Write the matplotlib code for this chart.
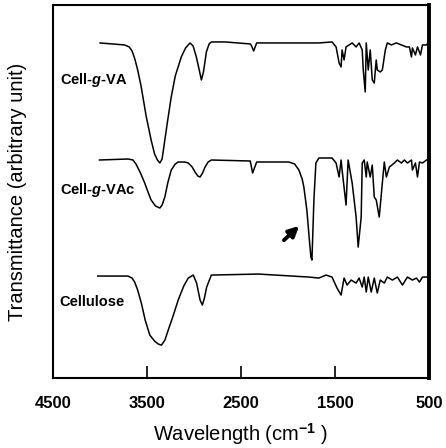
import matplotlib.pyplot as plt

# FTIR spectra (wavenumber in cm-1, transmittance in arbitrary units)
va_wn = [4000, 3739, 3690, 3660, 3630, 3600, 3564, 3510, 3457, 3420, 3390, 3364, 3340,
         3311, 3280, 3243, 3200, 3136, 3090, 3043, 3010,
         2976, 2945, 2922, 2900, 2869, 2840, 2816, 2669, 2402, 2388, 2366, 2334, 2000,
         1672, 1532, 1489,
         1457, 1436, 1425, 1404, 1383, 1351, 1318, 1276, 1244, 1211, 1200, 1179, 1168,
         1147, 1126, 1104, 1083, 1062, 1051, 1019, 997, 965, 944, 901, 848, 794, 741,
         709, 687, 677, 645, 623, 591, 570, 527, 505]
va_t = [335, 333, 331, 327, 319, 308, 292, 262, 238, 224, 218, 215, 219,
        238, 258, 281, 302, 321, 330, 335, 332,
        321, 308, 298, 306, 326, 334, 336, 336, 334, 332, 327, 335, 335,
        335, 336, 331,
        315, 311, 328, 318, 331, 333, 335, 331, 335, 328, 308, 286, 335,
        308, 328, 298, 295, 318, 308, 306, 308, 328, 335, 333, 335, 333, 331,
        331, 321, 330, 323, 331, 323, 333, 333, 336]

vac_wn = [4006, 3703, 3650, 3618, 3570, 3525, 3490, 3457, 3410, 3364, 3340, 3311, 3280,
          3243, 3200, 3169, 3100, 3062, 3020, 2990, 2960, 2936, 2910, 2883, 2850,
          2816, 2402, 2377, 2334, 1992, 1930, 1885, 1850, 1832, 1800, 1775, 1757, 1746,
          1725, 1704, 1672,
          1532, 1489, 1457, 1436, 1425, 1383, 1361, 1318, 1276, 1254, 1222, 1211, 1190,
          1168, 1158, 1126, 1104, 1083, 1062, 1030, 997, 976, 954, 922, 869, 837, 794,
          762, 730, 687, 677, 645, 623, 602, 570, 527, 505]
vac_t = [218, 219, 218, 214, 205, 195, 186, 178, 172, 170, 173, 181, 195,
         208, 214, 216, 216, 215, 211, 206, 202, 201, 205, 211, 216,
         218, 217, 205, 216, 216, 214, 208, 199, 191, 168, 140, 121, 118,
         178, 215, 220,
         220, 215, 201, 218, 208, 173, 218, 195, 161, 131, 161, 215, 218,
         201, 216, 201, 213, 181, 178, 161, 195, 216, 201, 211, 215, 218, 215,
         218, 215, 218, 208, 215, 201, 216, 215, 218, 219]

cel_wn = [4024, 3703, 3660, 3632, 3600, 3561, 3520, 3471, 3420, 3380, 3347, 3310, 3275,
          3220, 3169, 3110, 3062, 3008, 2973, 2936, 2912, 2890,
          2866, 2816, 2313, 1778, 1672, 1596, 1532, 1479, 1436, 1404, 1372, 1329, 1276,
          1244, 1211, 1190, 1168, 1147, 1115, 1083, 1051, 1019, 976, 944, 890, 837, 783,
          730, 677, 634, 602, 570, 527, 505]
cel_t = [102, 102, 100, 96, 88, 75, 58, 43, 37, 34, 33, 38, 48,
         63, 78, 92, 100, 103, 95, 78, 73, 80,
         91, 103, 104, 101, 100, 103, 101, 90, 83, 100, 93, 98, 95,
         100, 91, 101, 86, 101, 86, 100, 85, 98, 95, 101, 98, 101, 93,
         101, 98, 100, 96, 101, 101, 101]

labels = ["Cell-$\\mathit{g}$-VA", "Cell-$\\mathit{g}$-VAc", "Cellulose"]
label_y = [298, 188, 76]

plt.rcParams.update({
    "font.family": "Liberation Sans",
    "mathtext.fontset": "custom",
    "mathtext.rm": "Liberation Sans",
    "mathtext.it": "Liberation Sans:italic:bold",
    "mathtext.bf": "Liberation Sans:bold",
})

fig = plt.figure(figsize=(4.46, 4.48), dpi=100)
ax = fig.add_axes([0.119, 0.156, 0.843, 0.833])

for wn, t in [(va_wn, va_t), (vac_wn, vac_t), (cel_wn, cel_t)]:
    ax.plot(wn, t, color="black", lw=1.1)

for lab, y in zip(labels, label_y):
    ax.text(4430, y, lab, fontsize=10.5, fontweight="bold", va="center", ha="left")

# arrow marking the carbonyl band
ax.annotate("", xy=(1860, 154), xytext=(2065, 136),
            arrowprops=dict(arrowstyle="-|>", color="black", lw=2.8, mutation_scale=15))

ax.set_xlim(4500, 500)
ax.set_ylim(0, 373)
ax.set_xticks([4500, 3500, 2500, 1500, 500])
ax.set_xticklabels(["4500", "3500", "2500", "1500", "500"], fontweight="bold", fontsize=12)
ax.set_yticks([])
ax.tick_params(axis="x", direction="in", length=9, width=1.2, pad=13)

for side in ["left", "top", "bottom"]:
    ax.spines[side].set_linewidth(1.5)
ax.spines["right"].set_linewidth(2.8)

ax.set_xlabel("Wavelength (cm$^{\\mathbf{-1}}$ )", fontsize=14.5, labelpad=7)
ax.set_ylabel("Transmittance (arbitrary unit)", fontsize=14.5, labelpad=19)

fig.savefig("out.png", dpi=100, facecolor="white")
